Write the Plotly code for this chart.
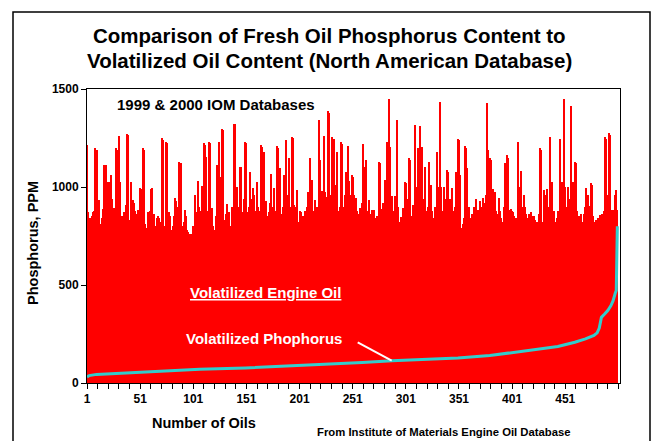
import plotly.graph_objects as go

# Fresh oil phosphorus (PPM) for each oil
fresh_p = [
    1214,873,827,840,765,850,870,880,1197,1190,770,936,810,780,840,890,1112,1112,1110,1027,
    900,1027,960,1061,940,891,860,1197,1190,820,1260,1027,762,850,800,870,780,906,1270,1265,
    830,1027,779,936,920,880,800,860,885,830,993,990,760,1197,1190,810,790,870,860,880,
    990,993,830,861,800,790,844,850,840,820,780,1248,1240,800,1231,1225,760,870,853,780,
    770,800,850,944,930,780,900,1129,1120,790,800,820,885,850,780,770,758,760,755,760,
    800,780,961,870,1032,900,850,880,1003,920,1222,1215,1155,820,880,1231,1225,860,893,800,
    780,850,1112,900,1231,1050,880,1294,1290,830,790,860,915,840,870,800,900,850,1324,1320,
    880,1000,830,900,1104,1100,870,800,940,1231,1225,870,900,1078,940,850,993,960,820,880,
    1027,900,840,880,1214,1205,870,1180,930,853,800,870,920,1068,900,840,993,830,880,1210,
    1200,830,1095,860,900,1061,840,1239,880,960,1146,900,850,1253,1248,910,860,900,985,820,
    880,870,830,850,827,880,840,900,976,860,1150,900,1036,880,840,936,900,860,1344,1138,
    940,980,900,1260,976,880,950,1387,1380,920,960,1253,1245,940,1010,1180,880,853,900,1228,
    1220,900,893,960,1078,1000,1210,1032,960,1061,1050,961,900,944,876,860,840,893,870,919,
    1219,900,1104,1138,880,936,840,860,885,820,882,800,840,853,780,1129,1120,890,860,920,
    1036,900,1228,1220,1450,1205,900,953,880,840,953,900,1341,900,820,848,800,893,860,1027,
    1020,880,940,1146,1140,810,850,910,880,1316,1000,1197,960,1312,1000,1205,900,940,1100,880,
    836,900,1129,940,1010,880,840,896,860,1180,1000,900,1433,1000,880,860,1000,940,900,1085,
    1078,900,940,993,880,853,900,1078,960,1245,1240,1061,762,790,810,840,1210,1200,1095,900,
    840,827,860,840,896,880,940,860,885,840,930,900,870,944,920,960,1428,1189,1000,1146,
    1140,900,988,940,976,880,844,860,944,880,840,820,900,1121,1000,1163,1150,885,860,890,
    880,870,850,840,844,820,1231,1000,1082,900,880,961,900,861,840,844,860,820,870,850,
    830,853,830,819,800,860,1197,1190,793,820,985,960,900,988,900,860,1253,1000,1027,880,
    819,800,840,880,857,1245,1000,1027,900,1450,1000,865,900,1000,940,1411,960,1027,900,1129,
    1120,876,840,853,830,860,819,800,861,900,993,960,902,880,1020,1010,853,800,819,830,
    827,840,820,857,830,861,880,1253,1245,900,960,1273,1265,885,880,885,860,961,985,885,
]
oil_no = list(range(1, len(fresh_p) + 1))

# Volatilized phosphorus (sorted) - read at oil numbers
vol_x = [1, 3, 10, 30, 51, 80, 107, 150, 192, 229, 260, 288, 320, 350, 380, 403, 428,
         444, 460, 470, 478, 481, 483, 485, 488, 491, 494, 496, 498, 499, 500]
vol_y = [30, 38, 44, 50, 56, 62, 70, 77, 86, 96, 104, 113, 120, 128, 140, 156, 175,
         186, 208, 225, 243, 256, 280, 335, 352, 370, 395, 420, 458, 472, 800]

x_ticks = [1, 51, 101, 151, 201, 251, 301, 351, 401, 451]
y_ticks = [0, 500, 1000, 1500]

FONT = "Liberation Sans, Arial, sans-serif"

fig = go.Figure()
fig.add_trace(go.Bar(x=oil_no, y=fresh_p, marker=dict(color="#FF0000", line=dict(width=0)),
                     width=1.0, showlegend=False))
fig.add_trace(go.Scatter(x=vol_x, y=vol_y, mode="lines",
                         line=dict(color="#33CCCC", width=3), showlegend=False))

fig.update_layout(
    width=655, height=441,
    margin=dict(l=87, r=35, t=89, b=58),
    paper_bgcolor="white", plot_bgcolor="white",
    bargap=0,
    font=dict(family=FONT, color="black"),
    xaxis=dict(range=[1, 502.5], tickmode="array", tickvals=x_ticks,
               ticktext=[str(v) for v in x_ticks],
               ticks="outside", ticklen=5, tickwidth=1, tickcolor="black",
               minor=dict(ticks="outside", tick0=1, dtick=10, ticklen=5,
                          tickcolor="black", tickwidth=1, showgrid=False),
               showgrid=False, zeroline=False, showline=True, linecolor="black",
               linewidth=1, mirror=True,
               tickfont=dict(size=12, weight="bold", family=FONT)),
    yaxis=dict(range=[0, 1500], tickvals=y_ticks, ticks="outside", ticklen=5,
               tickcolor="black", showgrid=False, zeroline=False, showline=True,
               linecolor="black", linewidth=1, mirror=True,
               tickfont=dict(size=12, weight="bold", family=FONT)),
)

def ann(text, x, y, size, color="black", xref="paper", yref="paper", angle=0):
    fig.add_annotation(text=text, x=x, y=y, xref=xref, yref=yref, showarrow=False,
                       xanchor="center", yanchor="middle", textangle=angle,
                       font=dict(size=size, color=color, family=FONT, weight="bold"))

def px_x(px):
    return (px - 87) / 533.0

def px_y(py):
    return (383 - py) / 294.0

ann("Comparison of Fresh Oil Phosphorus Content to", px_x(329), px_y(36), 20.5)
ann("Volatilized Oil Content (North American Database)", px_x(329), px_y(60), 20.5)
ann("1999 & 2000 IOM Databases", px_x(216), px_y(105), 15)
ann("<u>Volatilized Engine Oil</u>", px_x(265), px_y(292), 15, color="white")
ann("Volatilized Phophorus", px_x(264), px_y(338), 15, color="white")
ann("Phosphorus, PPM", px_x(33), px_y(243), 14.5, angle=-90)
ann("Number of Oils", px_x(204), px_y(423), 14.5)
ann("From Institute of Materials Engine Oil Database", px_x(444), px_y(432), 11.3)

# pointer line from label to curve
fig.add_shape(type="line", xref="x", yref="y", x0=255.7, y0=207, x1=287.7, y1=114,
              line=dict(color="white", width=2))

# outer frame
fig.add_shape(type="rect", xref="paper", yref="paper",
              x0=px_x(13), x1=px_x(650), y0=px_y(460), y1=px_y(12),
              line=dict(color="black", width=1.5), fillcolor="rgba(0,0,0,0)")

fig.write_html("out.html", config={"displayModeBar": False},
               post_script="document.body.style.margin='0';document.body.style.overflow='hidden';")
